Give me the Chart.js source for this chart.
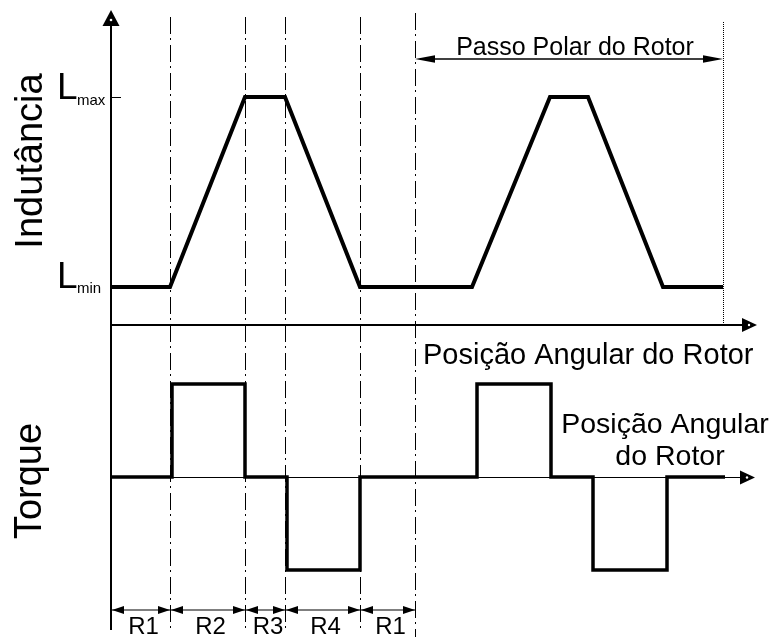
<!DOCTYPE html>
<html>
<head>
<meta charset="utf-8">
<script src="https://cdn.jsdelivr.net/npm/chart.js@4"></script>
<style>
html,body{margin:0;padding:0;background:#fff;}
canvas{display:block;}
</style>
</head>
<body>
<canvas id="c" width="774" height="637"></canvas>
<script>
// ---- data ----
const inductanceAngle = [0, 11.8, 26.8, 34.8, 49.8, 72.2, 87.8, 95.4, 110.4, 122.4];
const inductance      = [1, 1, 6, 6, 1, 1, 6, 6, 1, 1];   // Lmin = 1, Lmax = 6 (relative)
const torqueAngle = [0, 12.2, 12.2, 26.8, 26.8, 35.2, 35.2, 49.8, 49.8, 73.2, 73.2, 88, 88, 96.4, 96.4, 111.2, 111.2, 122.8];
const torque      = [0, 0, 1, 1, 0, 0, -1, -1, 0, 0, 1, 1, 0, 0, -1, -1, 0, 0];
const regionBounds = [0, 11.8, 26.8, 34.8, 49.8, 60.8];
const regionLabels = ['R1', 'R2', 'R3', 'R4', 'R1'];
const polePitch = [60.8, 122.4];
const Lmin = 1, Lmax = 6;
const yLabelTop = 'Indutância';
const yLabelBottom = 'Torque';
const pitchLabel = 'Passo Polar do Rotor';
const xLabel = 'Posição Angular do Rotor';
const xLabel2 = ['Posição Angular', 'do Rotor'];

const FONT = '"Liberation Sans", Arial, sans-serif';

function tri(ctx, tipX, tipY, dx, dy, len, hw) {
  const bx = tipX - dx * len, by = tipY - dy * len;
  const px = -dy, py = dx;
  ctx.beginPath();
  ctx.moveTo(tipX, tipY);
  ctx.lineTo(bx + px * hw, by + py * hw);
  ctx.lineTo(bx - px * hw, by - py * hw);
  ctx.closePath();
  ctx.fill();
}

const diagram = {
  id: 'diagram',
  beforeDatasetsDraw(chart) {
    const ctx = chart.ctx;
    const x = chart.scales.x, yL = chart.scales.yL, yT = chart.scales.yT;
    const x0 = x.getPixelForValue(0);
    const axL = yL.getPixelForValue(0);
    const axT = Math.round(yT.getPixelForValue(0)) + 0.5;
    ctx.save();
    ctx.fillStyle = '#000';
    ctx.strokeStyle = '#000';

    // vertical axis
    ctx.lineWidth = 2;
    ctx.beginPath(); ctx.moveTo(x0, 22); ctx.lineTo(x0, 630); ctx.stroke();
    tri(ctx, x0, 10, 0, -1, 16, 8.5);
    ctx.fillStyle = '#fff';
    ctx.beginPath(); ctx.arc(x0, 20, 1.3, 0, Math.PI * 2); ctx.fill();
    ctx.fillStyle = '#000';

    // top horizontal axis
    ctx.lineWidth = 2;
    ctx.beginPath(); ctx.moveTo(x0, axL); ctx.lineTo(745, axL); ctx.stroke();
    tri(ctx, 757, axL, 1, 0, 15, 7);
    ctx.fillStyle = '#fff';
    ctx.beginPath(); ctx.arc(749, axL, 1.2, 0, Math.PI * 2); ctx.fill();
    ctx.fillStyle = '#000';

    // torque axis
    ctx.lineWidth = 1;
    ctx.beginPath(); ctx.moveTo(x0, axT); ctx.lineTo(743, axT); ctx.stroke();
    tri(ctx, 755, axT, 1, 0, 15, 7);
    ctx.fillStyle = '#fff';
    ctx.beginPath(); ctx.arc(747, axT, 1.2, 0, Math.PI * 2); ctx.fill();
    ctx.fillStyle = '#000';

    // Lmax tick
    const yMax = yL.getPixelForValue(Lmax);
    ctx.lineWidth = 1;
    ctx.beginPath(); ctx.moveTo(x0, Math.round(yMax) + 0.5); ctx.lineTo(x0 + 10, Math.round(yMax) + 0.5); ctx.stroke();

    // dash-dot region boundaries
    ctx.lineWidth = 1;
    ctx.strokeStyle = '#000';
    ctx.setLineDash([17, 4, 2, 5]);
    for (let i = 1; i < regionBounds.length; i++) {
      const px = Math.round(x.getPixelForValue(regionBounds[i])) + 0.5;
      const last = i === regionBounds.length - 1;
      ctx.beginPath(); ctx.moveTo(px, last ? 13 : 17); ctx.lineTo(px, last ? 637 : 632); ctx.stroke();
    }
    // dotted end of pole pitch
    ctx.setLineDash([1, 1]);
    const pe = Math.round(x.getPixelForValue(polePitch[1])) + 0.5;
    ctx.beginPath(); ctx.moveTo(pe, 22); ctx.lineTo(pe, axL); ctx.stroke();
    ctx.setLineDash([]);

    // pole pitch dimension
    const ps = x.getPixelForValue(polePitch[0]);
    const pf = x.getPixelForValue(polePitch[1]);
    ctx.lineWidth = 1.3;
    ctx.beginPath(); ctx.moveTo(ps + 5, 59); ctx.lineTo(pf - 5, 59); ctx.stroke();
    tri(ctx, ps, 59, -1, 0, 20, 3.8);
    tri(ctx, pf, 59, 1, 0, 20, 3.8);

    // region dimensions
    ctx.lineWidth = 1.2;
    for (let i = 0; i < regionBounds.length - 1; i++) {
      const a = x.getPixelForValue(regionBounds[i]);
      const b = x.getPixelForValue(regionBounds[i + 1]);
      ctx.beginPath(); ctx.moveTo(a, 610); ctx.lineTo(b, 610); ctx.stroke();
      tri(ctx, a + 1, 610, -1, 0, 12, 4);
      tri(ctx, b, 610, 1, 0, 12, 4);
    }
    ctx.restore();
  },
  afterDatasetsDraw(chart) {
    const ctx = chart.ctx;
    const x = chart.scales.x, yL = chart.scales.yL;
    ctx.save();
    ctx.fillStyle = '#000';
    ctx.textBaseline = 'alphabetic';

    // rotated axis titles
    ctx.font = '38px ' + FONT;
    ctx.textAlign = 'center';
    ctx.save(); ctx.translate(42, 161); ctx.rotate(-Math.PI / 2); ctx.fillText(yLabelTop, 0, 0); ctx.restore();
    ctx.save(); ctx.translate(41, 481); ctx.rotate(-Math.PI / 2); ctx.fillText(yLabelBottom, 0, 0); ctx.restore();

    // L labels
    ctx.textAlign = 'left';
    const yMax = yL.getPixelForValue(Lmax);
    const yMin = yL.getPixelForValue(Lmin);
    ctx.font = '37px ' + FONT;
    ctx.fillText('L', 57, yMax + 2);
    ctx.fillText('L', 57, yMin + 1);
    ctx.font = '15px ' + FONT;
    ctx.fillText('max', 77, yMax + 8);
    ctx.fillText('min', 77, yMin + 6);

    // pitch label
    ctx.textAlign = 'center';
    ctx.font = '25px ' + FONT;
    const ps = x.getPixelForValue(polePitch[0]);
    const pf = x.getPixelForValue(polePitch[1]);
    ctx.fillText(pitchLabel, (ps + pf) / 2 + 6, 55);

    // x label under top axis
    ctx.textAlign = 'left';
    ctx.font = '29px ' + FONT;
    ctx.fillText(xLabel, 423, 364);

    // x label torque axis
    ctx.textAlign = 'center';
    ctx.font = '28.5px ' + FONT;
    ctx.fillText(xLabel2[0], 665, 433);
    ctx.fillText(xLabel2[1], 670, 465);

    // region labels
    ctx.font = '24px ' + FONT;
    for (let i = 0; i < regionLabels.length; i++) {
      const a = x.getPixelForValue(regionBounds[i]);
      const b = x.getPixelForValue(regionBounds[i + 1]);
      ctx.fillText(regionLabels[i], (a + b) / 2 + 3, 634);
    }
    ctx.restore();
  }
};

new Chart(document.getElementById('c'), {
  type: 'line',
  data: {
    datasets: [
      {
        label: 'Indutância',
        data: inductanceAngle.map((a, i) => ({ x: a, y: inductance[i] })),
        yAxisID: 'yL',
        borderColor: '#000',
        borderWidth: 4,
        borderJoinStyle: 'miter',
        borderCapStyle: 'butt',
        pointRadius: 0,
        fill: false,
        tension: 0
      },
      {
        label: 'Torque',
        data: torqueAngle.map((a, i) => ({ x: a, y: torque[i] })),
        yAxisID: 'yT',
        borderColor: '#000',
        borderWidth: 3.5,
        borderJoinStyle: 'miter',
        borderCapStyle: 'butt',
        pointRadius: 0,
        fill: false,
        tension: 0
      }
    ]
  },
  options: {
    responsive: false,
    animation: false,
    devicePixelRatio: 1,
    layout: { padding: { left: 111, right: 19, top: 0, bottom: 0 } },
    plugins: { legend: { display: false }, tooltip: { enabled: false } },
    scales: {
      x: { type: 'linear', display: false, min: 0, max: 128.8 },
      yL: { type: 'linear', display: false, min: -8.2105, max: 8.5526 },
      yT: { type: 'linear', display: false, min: -1.7204, max: 5.129 }
    }
  },
  plugins: [diagram]
});
</script>
</body>
</html>
